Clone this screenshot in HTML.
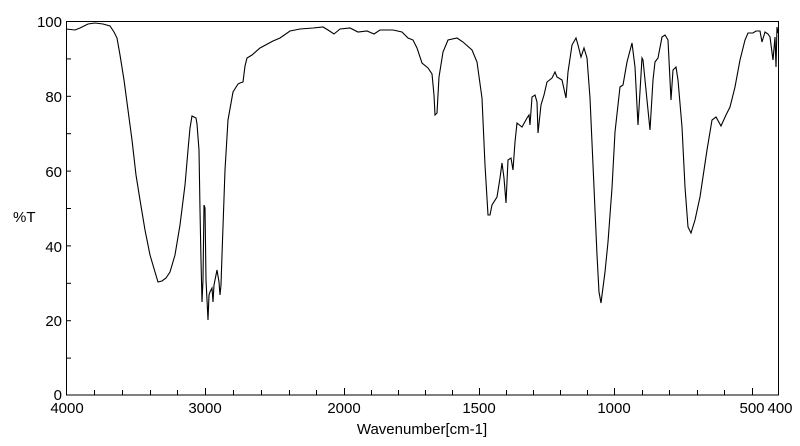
<!DOCTYPE html>
<html><head><meta charset="utf-8"><style>
body{margin:0;background:#fff;}
svg text{font-family:"Liberation Sans Narrow","Liberation Sans",sans-serif;font-size:15px;fill:#000;}
</style></head><body>
<svg width="800" height="441" viewBox="0 0 800 441" xmlns="http://www.w3.org/2000/svg">
<rect x="66.5" y="21.5" width="712" height="373.5" fill="none" stroke="#000" stroke-width="1"/>
<g stroke="#000" stroke-width="1">
<line x1="66" y1="58.9" x2="71" y2="58.9"/><line x1="66" y1="96.3" x2="71" y2="96.3"/><line x1="66" y1="133.7" x2="71" y2="133.7"/><line x1="66" y1="171.1" x2="71" y2="171.1"/><line x1="66" y1="208.5" x2="71" y2="208.5"/><line x1="66" y1="245.9" x2="71" y2="245.9"/><line x1="66" y1="283.3" x2="71" y2="283.3"/><line x1="66" y1="320.7" x2="71" y2="320.7"/><line x1="66" y1="358.1" x2="71" y2="358.1"/>
<line x1="94.5" y1="395" x2="94.5" y2="390"/><line x1="122.5" y1="395" x2="122.5" y2="390"/><line x1="150.5" y1="395" x2="150.5" y2="390"/><line x1="177.5" y1="395" x2="177.5" y2="390"/><line x1="205.5" y1="395" x2="205.5" y2="388"/><line x1="233.5" y1="395" x2="233.5" y2="390"/><line x1="261.5" y1="395" x2="261.5" y2="390"/><line x1="289.5" y1="395" x2="289.5" y2="390"/><line x1="316.5" y1="395" x2="316.5" y2="390"/><line x1="344.5" y1="395" x2="344.5" y2="388"/>
<line x1="371.5" y1="395" x2="371.5" y2="390"/><line x1="398.5" y1="395" x2="398.5" y2="390"/><line x1="425.5" y1="395" x2="425.5" y2="390"/><line x1="452.5" y1="395" x2="452.5" y2="390"/><line x1="479.5" y1="395" x2="479.5" y2="388"/><line x1="506.5" y1="395" x2="506.5" y2="390"/><line x1="533.5" y1="395" x2="533.5" y2="390"/><line x1="560.5" y1="395" x2="560.5" y2="390"/><line x1="587.5" y1="395" x2="587.5" y2="390"/><line x1="614.5" y1="395" x2="614.5" y2="388"/><line x1="642.5" y1="395" x2="642.5" y2="390"/><line x1="669.5" y1="395" x2="669.5" y2="390"/><line x1="697.5" y1="395" x2="697.5" y2="390"/><line x1="724.5" y1="395" x2="724.5" y2="390"/><line x1="752.5" y1="395" x2="752.5" y2="388"/>
</g>
<g text-anchor="end">
<text x="62" y="27">100</text><text x="62" y="102">80</text><text x="62" y="177">60</text><text x="62" y="252">40</text><text x="62" y="326">20</text><text x="62" y="400">0</text>
</g>
<text x="13" y="222">%T</text>
<g text-anchor="middle">
<text x="67" y="413">4000</text><text x="205" y="413">3000</text><text x="344" y="413">2000</text><text x="479" y="413">1500</text><text x="614" y="413">1000</text><text x="752" y="413">500</text><text x="780" y="413">400</text>
<text x="422" y="434">Wavenumber[cm-1]</text>
</g>
<polyline fill="none" stroke="#000" stroke-width="1.1" points="
66,29 75,30 80,28 88,24 95,23 103,24 110,26 114,32 117,38 120,55 124,80 128,110 132,140 136,175 140,200 145,230 150,255 155,272 158,282 162,281 166,278 170,272 175,255 180,225 185,185 188,150 190,128 192,116 194,117 196,118 197,124 199,150 200,210 201,260 202,302 203,280 204,205 205,208 206,280 207,300 208,320 209,295 210,292 212,288 213,302 214,285 216,275 217,270 219,282 220,295 221,285 222,255 225,170 228,120 233,92 238,84 240,83 243,82 245,66 247,58 252,55 260,48 273,41 280,38 290,31 300,29 313,28 323,27 328,30 334,34 340,29 350,28 358,32 367,31 374,34 380,30 393,30 402,32 408,38 413,40 417,48 422,63 428,68 432,74 434,95 435,115 437,113 439,77 443,52 448,40 457,38 463,42 472,50 477,62 482,98 485,165 488,215 490,215 492,205 497,197 500,178 502,163 504,178 506,203 508,160 511,158 513,170 515,142 517,123 522,127 527,118 529,115 530,125 532,97 535,95 537,102 538,133 541,105 544,95 547,82 552,78 555,72 557,77 562,80 566,98 568,72 572,45 576,38 578,45 581,57 584,48 587,58 590,98 593,165 597,255 599,292 601,303 605,272 608,242 612,188 615,132 620,87 623,85 627,62 632,43 635,67 638,125 642,58 643,60 647,100 650,130 653,80 655,62 658,58 662,37 665,35 668,40 671,100 673,70 676,67 678,80 682,127 685,187 688,227 691,233 695,220 700,197 707,150 712,120 716,117 721,126 726,115 730,107 735,87 740,60 745,40 748,33 753,33 756,31 760,31 762,42 765,32 768,34 770,37 773,60 775,37 776,67 777,27 778,33"/>
</svg>
</body></html>
